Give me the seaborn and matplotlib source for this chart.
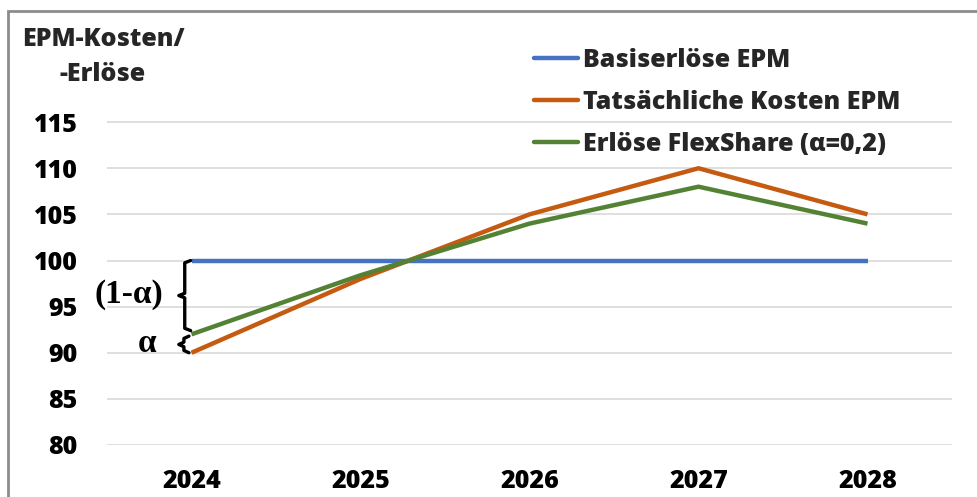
import matplotlib
matplotlib.use("Agg")
import matplotlib.pyplot as plt
import seaborn as sns
import pandas as pd
from matplotlib.patches import Rectangle
from matplotlib.lines import Line2D

years = ["2024", "2025", "2026", "2027", "2028"]
basis = [100, 100, 100, 100, 100]
kosten = [90, 98, 105, 110, 105]
flex = [92, 98.4, 104, 108, 104]
series_names = ["Basiserlöse EPM", "Tatsächliche Kosten EPM", "Erlöse FlexShare (α=0,2)"]
yticks = [80, 85, 90, 95, 100, 105, 110, 115]
colors = ["#4472C4", "#C55A11", "#548235"]

df = pd.DataFrame({
    "Jahr": years * 3,
    "Wert": basis + kosten + flex,
    "Serie": [series_names[0]] * 5 + [series_names[1]] * 5 + [series_names[2]] * 5,
})

FONT = ["Open Sans", "DejaVu Sans"]
WEIGHT = 800
FS = 18
sns.set_theme(style="white")
plt.rcParams["font.family"] = FONT
plt.rcParams["font.weight"] = WEIGHT

W, H = 978, 497
fig = plt.figure(figsize=(W / 100, H / 100), dpi=100)
ax = fig.add_axes([107 / W, 1 - 445 / H, (952 - 107) / W, (445 - 76) / H])

for y in yticks:
    ax.axhline(y, color="#D9D9D9", lw=1.2, zorder=0)

sns.lineplot(data=df, x="Jahr", y="Wert", hue="Serie", palette=colors,
             linewidth=3.2, ax=ax, legend=False, sort=False)
for ln in ax.lines:
    ln.set_solid_capstyle("butt")

ax.set_xlim(-0.5, 4.5)
ax.set_ylim(80, 120)
ax.set_yticks(yticks)
ax.set_yticklabels([str(v) for v in yticks])
ax.tick_params(axis="y", length=0, pad=21, labelsize=FS)
ax.tick_params(axis="x", length=0, pad=17, labelsize=FS)
for lab in ax.get_xticklabels() + ax.get_yticklabels():
    lab.set_fontweight(WEIGHT)
    lab.set_color("black")
ax.set_xlabel("")
ax.set_ylabel("")
for s in ax.spines.values():
    s.set_visible(False)
ax.patch.set_alpha(0)

# y-axis title
fig.text(103 / W, 1 - 57 / H, "EPM-Kosten/\n-Erlöse", ha="center", va="center",
         fontsize=FS, fontweight=WEIGHT, linespacing=1.55)

# legend
handles = [Line2D([], [], color=c, lw=3.2, solid_capstyle="round") for c in colors]
leg = fig.legend(handles, series_names, loc="upper left",
                 bbox_to_anchor=(534 / W, 1 - 48 / H), frameon=False,
                 prop={"family": FONT, "weight": WEIGHT, "size": FS},
                 handlelength=1.75, handletextpad=0.2, labelspacing=0.68,
                 borderpad=0, borderaxespad=0)

# braces
def brace(ax, x, y0, y1, w, mid_w):
    ym = (y0 + y1) / 2
    xs = [x + w, x, x, x - mid_w, x, x, x + w]
    ys = [y0, y0 - 0.25, ym + 0.25, ym, ym - 0.25, y1 + 0.25, y1]
    ax.plot(xs, ys, color="black", lw=2.4, clip_on=False, solid_joinstyle="round")

brace(ax, -0.04, 100, 92.4, 0.035, 0.035)
brace(ax, -0.045, 91.8, 90, 0.03, 0.03)

SERIF = ["Liberation Serif", "DejaVu Serif"]
ax.text(-0.37, 96.3, "(1-α)", ha="center", va="center", fontsize=24,
        fontweight="bold", family=SERIF, color="black", clip_on=False)
ax.text(-0.26, 91.0, "α", ha="center", va="center", fontsize=24,
        fontweight="bold", family=SERIF, color="black", clip_on=False)

# outer frame
fig.patches.append(Rectangle((8 / W, -0.02), 1.05, 1 - 11 / H + 0.02,
                             transform=fig.transFigure, fill=False,
                             edgecolor="#8C8C8C", lw=2.0, zorder=10))

fig.savefig("out.png", dpi=100)
